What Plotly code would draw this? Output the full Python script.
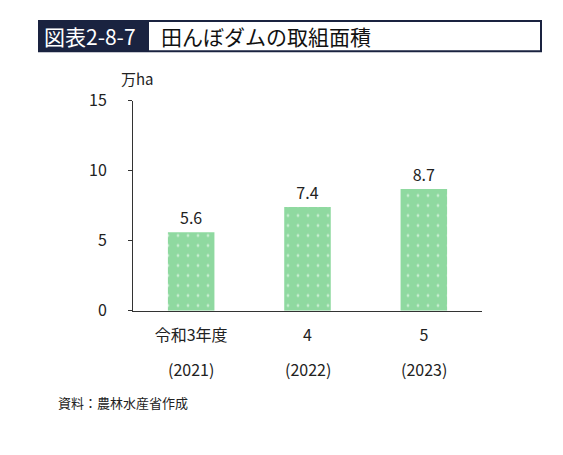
import plotly.graph_objects as go

categories = ["令和3年度", "4", "5"]
years = ["(2021)", "(2022)", "(2023)"]
values = [5.6, 7.4, 8.7]
yticks = [0, 5, 10, 15]

W, H = 563, 455
def px(x): return x / W
def py(y): return 1 - y / H

F = "Noto Sans CJK JP"
fig = go.Figure(go.Bar(
    x=list(range(len(categories))), y=values, width=0.4,
    marker=dict(color="#8fd9a0", line=dict(width=0),
                pattern=dict(shape=".", fgcolor="white", bgcolor="#8fd9a0", size=10, solidity=0.06)),
    text=[f"{v:.1f}" for v in values], textposition="outside",
    textfont=dict(family=F, size=16, color="#222"), cliponaxis=False,
))
fig.update_layout(
    width=W, height=H, margin=dict(l=0, r=0, t=0, b=0),
    paper_bgcolor="white", plot_bgcolor="white", showlegend=False,
    font=dict(family=F, size=16, color="#222"),
    xaxis=dict(domain=[px(125), px(474)], range=[-0.5, 2.5],
               tickvals=list(range(len(categories))), ticktext=categories,
               showline=True, linecolor="#333", linewidth=1, ticks="", showgrid=False,
               ticklabelstandoff=10, tickfont=dict(size=16)),
    yaxis=dict(domain=[py(306), py(84)], range=[0, 15], tickvals=yticks,
               showline=True, linecolor="#333", linewidth=1, ticks="outside", ticklen=4,
               tickcolor="#333", showgrid=False, zeroline=False, ticklabelstandoff=18,
               tickfont=dict(size=16)),
    shapes=[
        dict(type="rect", xref="paper", yref="paper", x0=px(31), x1=px(533), y0=py(32), y1=py(0),
             line=dict(color="#1a2340", width=2), fillcolor="white", layer="below"),
        dict(type="rect", xref="paper", yref="paper", x0=px(31), x1=px(141), y0=py(32), y1=py(0),
             line=dict(width=0), fillcolor="#1a2340"),
    ],
)
ann = [
    dict(text="図表2-8-7", x=px(34), y=py(16), xanchor="left", yanchor="middle",
         font=dict(size=21, color="white")),
    dict(text="田んぼダムの取組面積", x=px(151), y=py(16), xanchor="left", yanchor="middle",
         font=dict(size=21, color="#111")),
    dict(text="万ha", x=px(111), y=py(61), xanchor="left", yanchor="middle", font=dict(size=15)),
    dict(text="資料：農林水産省作成", x=px(48), y=py(403), xanchor="left", yanchor="middle",
         font=dict(size=13)),
]
for a in ann:
    a.update(xref="paper", yref="paper", showarrow=False)
for i, yr in enumerate(years):
    ann.append(dict(text=yr, x=i, xref="x", y=py(367), yref="paper", showarrow=False,
                    yanchor="middle", font=dict(size=16)))
fig.update_layout(annotations=ann)
fig.write_html("out.html")
